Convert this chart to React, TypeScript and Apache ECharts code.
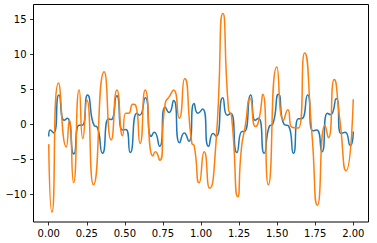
import React, { useEffect, useRef } from "react";
import * as echarts from "echarts";

const xTicks = [0, 0.25, 0.5, 0.75, 1, 1.25, 1.5, 1.75, 2];
const yTicks = [-10, -5, 0, 5, 10, 15];

const blueX = [0, 0.01, 0.032, 0.067, 0.102, 0.122, 0.165, 0.2, 0.22, 0.255, 0.3, 0.316, 0.353, 0.393, 0.41, 0.447, 0.485, 0.507, 0.535, 0.579, 0.596, 0.634, 0.673, 0.693, 0.728, 0.765, 0.79, 0.82, 0.86, 0.89, 0.92, 0.955, 0.98, 1.01, 1.05, 1.08, 1.1, 1.143, 1.173, 1.195, 1.236, 1.27, 1.285, 1.327, 1.356, 1.378, 1.415, 1.45, 1.47, 1.509, 1.546, 1.575, 1.607, 1.64, 1.66, 1.7, 1.735, 1.76, 1.794, 1.83, 1.85, 1.888, 1.92, 1.946, 1.98, 2.0];
const blueY = [-1.7, -0.8, -1.2, 4.2, 0.6, 0.9, -4.2, -0.1, -0.1, 4.2, -0.2, -0.3, -4.1, 0.8, 0.7, 4.1, -0.8, -0.7, -4.0, 1.6, 1.3, 3.8, -1.7, -1.1, -3.1, 2.5, 1.7, 3.4, -2.6, -1.2, -2.4, 3.0, 1.6, 2.2, -3.1, -1.3, -1.7, 3.8, 1.3, 1.6, -4.0, -1.0, -1.0, 4.2, 0.6, 0.9, -4.1, -0.2, 0.0, 4.3, 0.0, -0.2, -4.1, 0.8, 0.8, 4.2, -0.9, -0.8, -3.9, 1.6, 1.4, 3.7, -1.3, -1.1, -3.0, -1.0];

const orangeX = [0, 0.021, 0.064, 0.115, 0.135, 0.163, 0.2, 0.224, 0.25, 0.294, 0.364, 0.41, 0.448, 0.485, 0.505, 0.524, 0.553, 0.57, 0.6, 0.634, 0.684, 0.7, 0.728, 0.765, 0.793, 0.82, 0.857, 0.892, 0.94, 0.955, 0.988, 1.021, 1.056, 1.098, 1.144, 1.181, 1.2, 1.242, 1.265, 1.29, 1.323, 1.358, 1.38, 1.406, 1.442, 1.498, 1.542, 1.57, 1.597, 1.64, 1.68, 1.728, 1.765, 1.815, 1.837, 1.875, 1.91, 1.953, 2.0];
const orangeY = [-2.8, -12.5, 5.9, -3.2, 0.6, -8.3, 4.9, -2.0, 3.5, -8.6, 7.5, -2.2, 4.9, -1.6, 1.6, 1.6, 2.9, 2.8, -2.7, 4.9, -4.5, -3.9, -5.1, 3.0, 4.0, 4.9, 0.9, 6.5, -2.7, -3.0, -8.3, -3.9, -9.1, -2.7, 15.8, 2.1, 1.3, -10.3, -3.5, -0.3, 3.7, -0.3, 0.6, 4.3, -8.6, 8.2, 0.6, 2.1, -0.4, -0.5, 10.2, -1.2, -11.5, -0.1, -1.9, 6.4, 1.0, -6.6, 3.6];

const font = "DejaVu Sans";

export default function App() {
  const ref = useRef<HTMLDivElement>(null);
  useEffect(() => {
    document.body.style.margin = "0";
    const chart = echarts.init(ref.current!, null, { renderer: "svg" });
    chart.setOption({
      animation: false,
      grid: {
        left: 33.5,
        top: 4.5,
        right: 8.5,
        bottom: 21,
        show: true,
        borderColor: "#000",
        borderWidth: 1,
        backgroundColor: "transparent",
      },
      xAxis: {
        type: "value",
        min: -0.1,
        max: 2.1,
        axisLine: { show: false, onZero: false },
        splitLine: { show: false },
        axisTick: { show: true, inside: false, length: 3.5, customValues: xTicks, lineStyle: { color: "#000", width: 0.8 } },
        axisLabel: {
          customValues: xTicks,
          formatter: (v: number) => v.toFixed(2),
          fontFamily: font,
          fontSize: 10,
          color: "#000",
          margin: 6,
        },
      },
      yAxis: {
        type: "value",
        min: -13.9,
        max: 17.1,
        axisLine: { show: false, onZero: false },
        splitLine: { show: false },
        axisTick: { show: true, inside: false, length: 3.5, customValues: yTicks, lineStyle: { color: "#000", width: 0.8 } },
        axisLabel: {
          customValues: yTicks,
          formatter: (v: number) => (v < 0 ? "\u2212" + Math.abs(v) : String(v)),
          fontFamily: font,
          fontSize: 10,
          color: "#000",
          margin: 7,
        },
      },
      series: [
        {
          type: "line",
          data: blueX.map((x, i) => [x, blueY[i]]),
          smooth: 0.65,
          showSymbol: false,
          lineStyle: { color: "#1f77b4", width: 1.5 },
          z: 2,
        },
        {
          type: "line",
          data: orangeX.map((x, i) => [x, orangeY[i]]),
          smooth: 0.65,
          showSymbol: false,
          lineStyle: { color: "#ff7f0e", width: 1.5 },
          z: 3,
        },
      ],
    });
    return () => chart.dispose();
  }, []);
  return <div ref={ref} style={{ width: 377, height: 243 }} />;
}
